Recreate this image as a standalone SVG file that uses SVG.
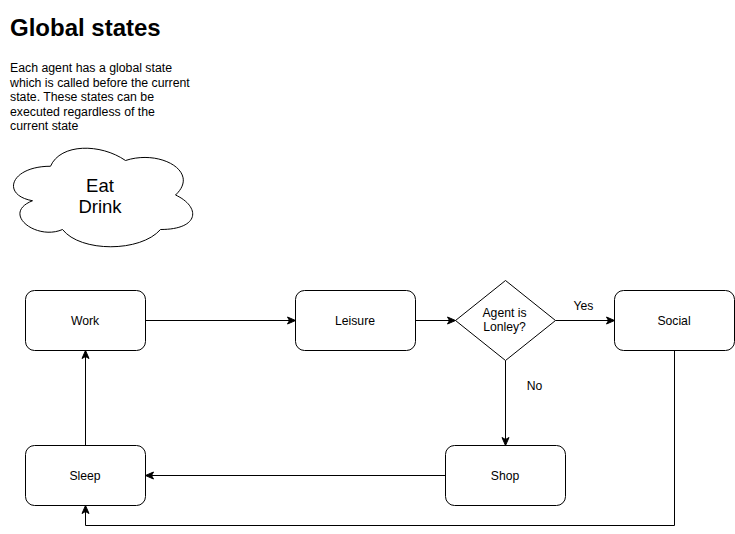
<svg xmlns="http://www.w3.org/2000/svg" width="735" height="534" viewBox="0 0 735 534">
<style>
  .shape { fill: #ffffff; stroke: #000000; stroke-width: 1; }
  .edge { fill: none; stroke: #000000; stroke-width: 1; }
  text { font-family: "Liberation Sans", Arial, Helvetica, sans-serif; fill: #000000; }
  .lbl { font-size: 12.2px; text-anchor: middle; }
  .para { font-size: 12.3px; }
  .title { font-size: 24px; font-weight: bold; }
  .cloudtxt { font-size: 18.5px; text-anchor: middle; }
</style>
<defs>
  <marker id="arrow" markerUnits="userSpaceOnUse" markerWidth="9" markerHeight="8" refX="8" refY="3.5" orient="auto" overflow="visible">
    <path d="M8,3.5 L0,0 L2,3.5 L0,7 Z" fill="#000000" stroke="#000000" stroke-width="1" stroke-linejoin="miter"/>
  </marker>
</defs>
<rect x="0" y="0" width="735" height="534" fill="#ffffff"/>

<g id="heading">
  <text class="title" x="10" y="36">Global states</text>
  <text class="para" x="10" y="72">Each agent has a global state</text>
  <text class="para" x="10" y="86.5">which is called before the current</text>
  <text class="para" x="10" y="101">state. These states can be</text>
  <text class="para" x="10" y="115.5">executed regardless of the</text>
  <text class="para" x="10" y="130">current state</text>
</g>

<g transform="translate(0.5,0.5)">
  <g id="cloud">
    <path class="shape" d="M50,165.75 C10,165.75 0,194.5 32,200.25 C0,212.9 36,240.5 62,229 C80,252 140,252 160,229 C200,229 200,206 175,194.5 C200,171.5 160,148.5 125,160 C100,142.75 60,142.75 50,165.75 Z"/>
    <text class="cloudtxt" x="99.5" y="191">Eat</text>
    <text class="cloudtxt" x="99.5" y="212.5">Drink</text>
  </g>

  <g id="connectors">
    <path class="edge" d="M145,320 L295,320" marker-end="url(#arrow)"/>
    <path class="edge" d="M415,320 L455,320" marker-end="url(#arrow)"/>
    <path class="edge" d="M555,320 L614,320" marker-end="url(#arrow)"/>
    <path class="edge" d="M505,360 L505,445" marker-end="url(#arrow)"/>
    <path class="edge" d="M445,475 L145,475" marker-end="url(#arrow)"/>
    <path class="edge" d="M674,350 L674,525 L85,525 L85,505" marker-end="url(#arrow)"/>
    <path class="edge" d="M85,445 L85,350" marker-end="url(#arrow)"/>
    <text class="lbl" x="583" y="309">Yes</text>
    <text class="lbl" x="534" y="389">No</text>
  </g>

  <g id="work">
    <rect class="shape" x="25" y="290" width="120" height="60" rx="9" ry="9"/>
    <text class="lbl" x="84.5" y="324">Work</text>
  </g>
  <g id="leisure">
    <rect class="shape" x="295" y="290" width="120" height="60" rx="9" ry="9"/>
    <text class="lbl" x="354.5" y="324">Leisure</text>
  </g>
  <g id="lonely">
    <path class="shape" d="M505,280 L555,320 L505,360 L455,320 Z"/>
    <text class="lbl" x="504" y="316">Agent is</text>
    <text class="lbl" x="504" y="330">Lonley?</text>
  </g>
  <g id="social">
    <rect class="shape" x="614" y="290" width="120" height="60" rx="9" ry="9"/>
    <text class="lbl" x="673.5" y="324">Social</text>
  </g>
  <g id="shop">
    <rect class="shape" x="445" y="445" width="120" height="60" rx="9" ry="9"/>
    <text class="lbl" x="504.5" y="479">Shop</text>
  </g>
  <g id="sleep">
    <rect class="shape" x="25" y="445" width="120" height="60" rx="9" ry="9"/>
    <text class="lbl" x="84.5" y="479">Sleep</text>
  </g>
</g>
</svg>
